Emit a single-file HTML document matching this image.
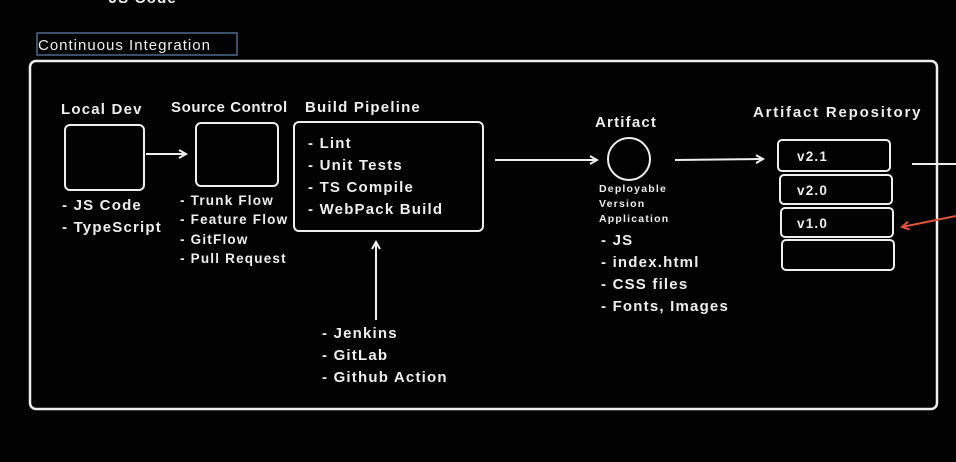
<!DOCTYPE html>
<html><head><meta charset="utf-8"><style>
html,body{margin:0;padding:0;background:#000;}
svg{display:block}
text{font-family:"Liberation Sans",sans-serif;font-weight:bold;fill:#eee;letter-spacing:1.2px;}
.n{font-weight:normal;letter-spacing:1px;}
</style></head><body>
<svg width="956" height="462" viewBox="0 0 956 462" xmlns="http://www.w3.org/2000/svg">
<rect width="956" height="462" fill="#020202"/>
<defs><marker id="a" markerWidth="10" markerHeight="10" refX="8" refY="5" orient="auto" markerUnits="userSpaceOnUse"><path d="M1,1 L8,5 L1,9" fill="none" stroke="#eee" stroke-width="2"/></marker>
<marker id="r" markerWidth="10" markerHeight="10" refX="8" refY="5" orient="auto" markerUnits="userSpaceOnUse"><path d="M1,1 L8,5 L1,9" fill="none" stroke="#e0523c" stroke-width="2"/></marker></defs>
<g fill="none" stroke="#eee" stroke-width="2">
<rect x="37" y="33" width="200" height="22" stroke="#4a6a8c" stroke-width="1.5"/>
<rect x="30" y="61" width="907" height="348" rx="6" stroke-width="2.5"/>
<rect x="65" y="125" width="79" height="65" rx="5"/>
<rect x="196" y="123" width="82" height="63" rx="5"/>
<rect x="294" y="122" width="189" height="109" rx="5"/>
<line x1="146" y1="154" x2="186" y2="154" marker-end="url(#a)"/>
<line x1="376" y1="320" x2="376" y2="242" marker-end="url(#a)"/>
<line x1="495" y1="160" x2="597" y2="160" marker-end="url(#a)"/>
<circle cx="629" cy="159" r="21"/>
<line x1="675" y1="160" x2="763" y2="159" marker-end="url(#a)"/>
<rect x="778" y="140" width="112" height="31" rx="4"/>
<rect x="780" y="175" width="112" height="29" rx="4"/>
<rect x="781" y="208" width="112" height="29" rx="4"/>
<rect x="782" y="240" width="112" height="30" rx="4"/>
<line x1="912" y1="164" x2="956" y2="164"/>
<line x1="956" y1="216" x2="902" y2="227" stroke="#e0523c" marker-end="url(#r)"/>
</g>
<text x="97" y="3" font-size="15">- JS Code</text>
<text x="38" y="50" font-size="15" class="n">Continuous Integration</text>
<g font-size="15">
<text x="61" y="114">Local Dev</text>
<text x="171" y="112" style="letter-spacing:0.6px">Source Control</text>
<text x="305" y="112">Build Pipeline</text>
<text x="308" y="148">- Lint</text>
<text x="308" y="170">- Unit Tests</text>
<text x="308" y="192">- TS Compile</text>
<text x="308" y="214">- WebPack Build</text>
<text x="62" y="210">- JS Code</text>
<text x="62" y="232">- TypeScript</text>
<text x="322" y="338">- Jenkins</text>
<text x="322" y="360">- GitLab</text>
<text x="322" y="382">- Github Action</text>
<text x="595" y="127">Artifact</text>
<text x="753" y="117" style="letter-spacing:1.8px">Artifact Repository</text>
<text x="601" y="245">- JS</text>
<text x="601" y="267">- index.html</text>
<text x="601" y="289">- CSS files</text>
<text x="601" y="311">- Fonts, Images</text>
</g>
<g font-size="13.5">
<text x="180" y="205">- Trunk Flow</text>
<text x="180" y="224">- Feature Flow</text>
<text x="180" y="244">- GitFlow</text>
<text x="180" y="263">- Pull Request</text>
<text x="797" y="161">v2.1</text>
<text x="797" y="195">v2.0</text>
<text x="797" y="228">v1.0</text>
</g>
<g font-size="10.5">
<text x="599" y="192">Deployable</text>
<text x="599" y="207">Version</text>
<text x="599" y="222">Application</text>
</g>
</svg>
</body></html>
